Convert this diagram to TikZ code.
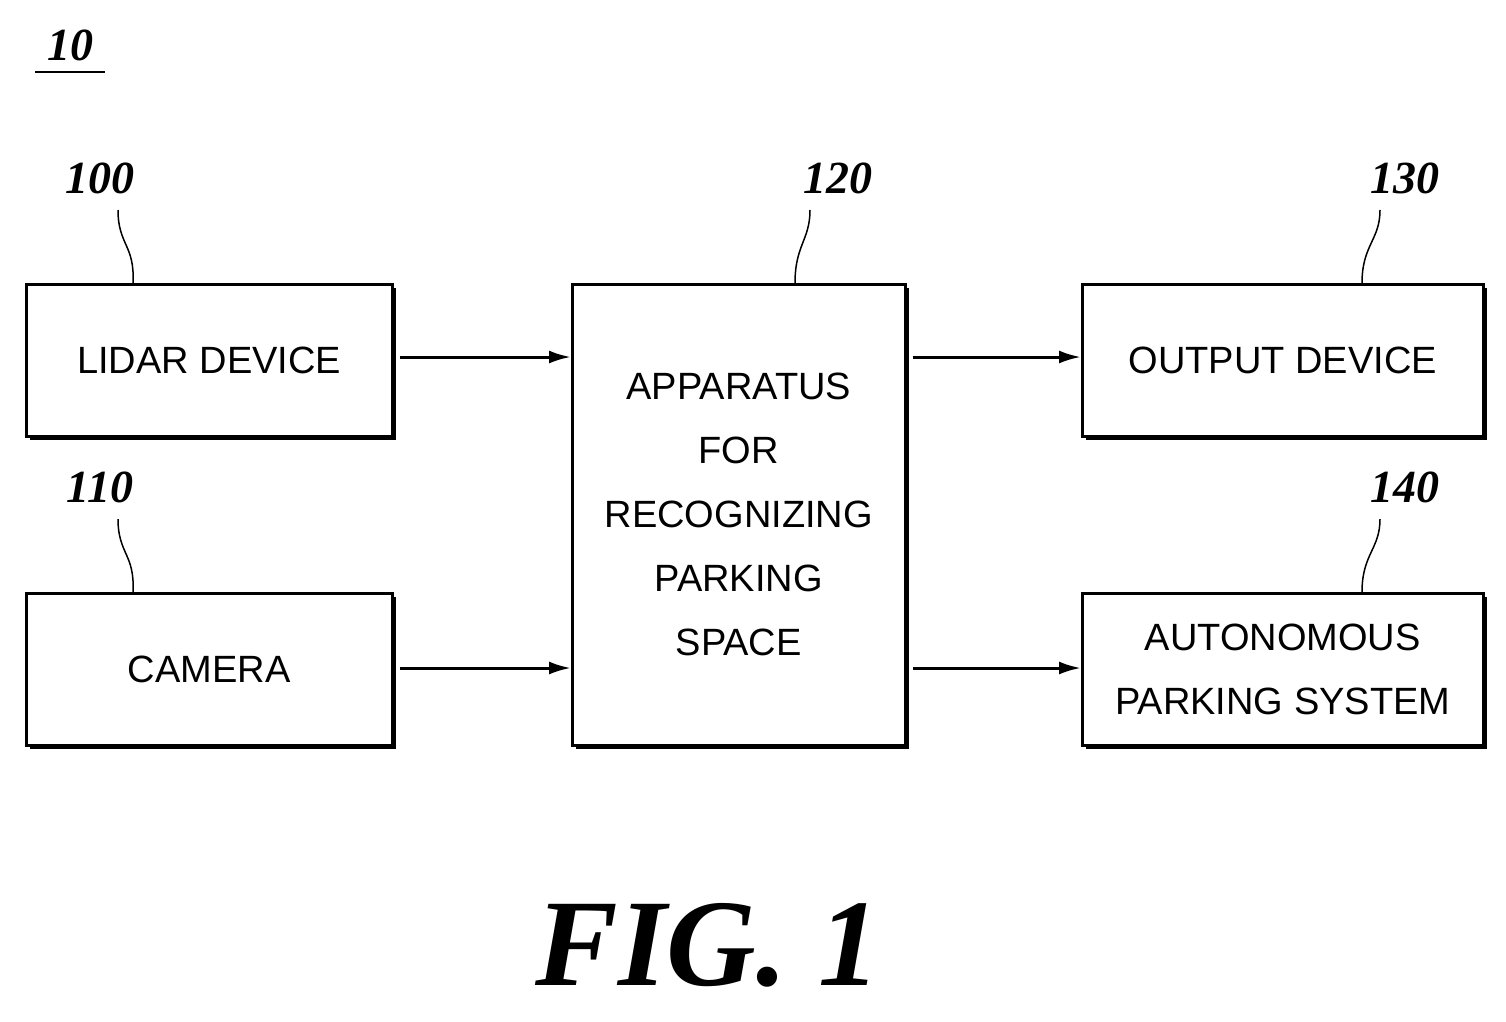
\documentclass[tikz,border=0pt]{standalone}
\usepackage{fontspec}
\setmainfont{Liberation Serif}
\setsansfont{Liberation Sans}
\usetikzlibrary{arrows.meta}
\newcommand{\mybox}[6]{%
  \fill (#2+5,#3+5) rectangle (#4+5,#5+5);
  \node[box,fill=white,minimum width=#4-#2,minimum height=#5-#3,anchor=north west] (#1) at (#2,#3) {#6};}
\begin{document}
\begin{tikzpicture}[x=1pt,y=-1pt,
  box/.style={draw,line width=2.5pt,inner sep=0pt,font=\sffamily\fontsize{38}{64}\selectfont,align=center},
  lbl/.style={font=\bfseries\itshape\fontsize{46}{46}\selectfont},
  arr/.style={line width=3pt,-{Latex[length=22pt,width=13pt]}},
  sq/.style={line width=1.5pt}]
\useasboundingbox (0,0) rectangle (1506,1021);
\mybox{lidar}{25}{283}{391}{435}{LIDAR DEVICE}
\mybox{cam}{25}{592}{391}{744}{CAMERA}
\mybox{app}{571}{283}{904}{744}{APPARATUS\\FOR\\RECOGNIZING\\PARKING\\SPACE}
\mybox{out}{1081}{283}{1482}{435}{OUTPUT DEVICE}
\mybox{aut}{1081}{592}{1482}{744}{AUTONOMOUS\\PARKING SYSTEM}
\draw[arr] (lidar.east|-0,357) ++(6,0) -- (app.west|-0,357);
\draw[arr] (cam.east|-0,668) ++(6,0) -- (app.west|-0,668);
\draw[arr] (app.east|-0,357) ++(6,0) -- (out.west|-0,357);
\draw[arr] (app.east|-0,668) ++(6,0) -- (aut.west|-0,668);
\node[lbl] (l100) at (100,178) {100};
\node[lbl] (l110) at (100,487) {110};
\node[lbl] (l120) at (838,178) {120};
\node[lbl] (l130) at (1405,178) {130};
\node[lbl] (l140) at (1405,487) {140};
\draw[sq] (118,210) .. controls (118,245) and (135,245) .. (133,283);
\draw[sq] (118,519) .. controls (118,554) and (135,554) .. (133,592);
\draw[sq] (810,210) .. controls (810,240) and (795,245) .. (795,283);
\draw[sq] (1380,210) .. controls (1380,240) and (1362,245) .. (1362,283);
\draw[sq] (1380,519) .. controls (1380,549) and (1362,554) .. (1362,592);
\node[lbl] (l10) at (70,45) {10};
\draw[line width=2pt] (35,72) -- (105,72);
\node[font=\bfseries\itshape\fontsize{124}{124}\selectfont] (fig) at (708,945) {FIG. 1};
\end{tikzpicture}
\end{document}
